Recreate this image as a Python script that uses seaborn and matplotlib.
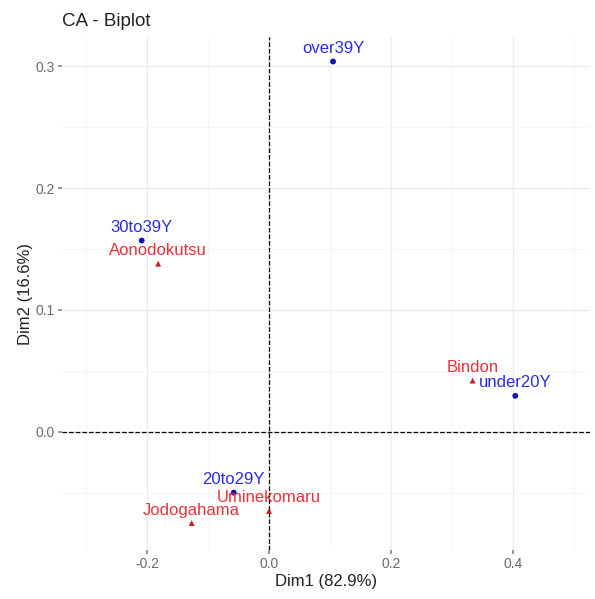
import pandas as pd
import matplotlib.pyplot as plt
import seaborn as sns
from matplotlib.ticker import MultipleLocator

# Row points (red triangles) and column points (blue circles)
row_names = ['Aonodokutsu', 'Bindon', 'Uminekomaru', 'Jodogahama']
row_dim1 = [-0.182, 0.334, 0.000, -0.127]
row_dim2 = [0.138, 0.042, -0.065, -0.075]

col_names = ['over39Y', '30to39Y', '20to29Y', 'under20Y']
col_dim1 = [0.105, -0.209, -0.058, 0.404]
col_dim2 = [0.304, 0.157, -0.050, 0.0295]

df = pd.concat([
    pd.DataFrame({'name': row_names, 'Dim1': row_dim1, 'Dim2': row_dim2, 'type': 'row'}),
    pd.DataFrame({'name': col_names, 'Dim1': col_dim1, 'Dim2': col_dim2, 'type': 'col'}),
], ignore_index=True)

sns.set_theme(style='whitegrid')
plt.rcParams['font.family'] = ['Liberation Sans', 'DejaVu Sans']

fig = plt.figure(figsize=(5.95, 5.99), dpi=100)
ax = fig.add_axes([0.104, 0.082, 0.888, 0.856])

colors = {'row': '#c81e1e', 'col': '#1414b4'}
text_colors = {'row': '#e8303a', 'col': '#2b2be0'}
sns.scatterplot(data=df, x='Dim1', y='Dim2', hue='type', style='type',
                markers={'row': '^', 'col': 'o'}, palette=colors,
                s=18, linewidth=0, legend=False, ax=ax, zorder=3)

for _, r in df.iterrows():
    ax.annotate(r['name'], (r['Dim1'], r['Dim2']), xytext=(0, 4),
                textcoords='offset points', ha='center', va='bottom',
                color=text_colors[r['type']], fontsize=12, zorder=4)

ax.axhline(0, color='black', linestyle='--', linewidth=0.9, zorder=2)
ax.axvline(0, color='black', linestyle='--', linewidth=0.9, zorder=2)

ax.set_xlim(-0.34, 0.527)
ax.set_ylim(-0.097, 0.324)
ax.xaxis.set_major_locator(MultipleLocator(0.2))
ax.xaxis.set_minor_locator(MultipleLocator(0.1))
ax.yaxis.set_major_locator(MultipleLocator(0.1))
ax.yaxis.set_minor_locator(MultipleLocator(0.05))
ax.xaxis.set_major_formatter(plt.FuncFormatter(lambda v, p: f'{v:.1f}'))
ax.yaxis.set_major_formatter(plt.FuncFormatter(lambda v, p: f'{v:.1f}'))
ax.grid(which='major', color='#ebebeb', linewidth=0.9)
ax.grid(which='minor', color='#f4f4f4', linewidth=0.6)
for s in ax.spines.values():
    s.set_visible(False)
ax.tick_params(axis='both', which='major', labelsize=10, labelcolor='#6a6a6a',
               length=3, color='#8a8a8a', pad=2, left=True, bottom=True)
ax.tick_params(axis='both', which='minor', length=0)

ax.set_xlabel('Dim1 (82.9%)', fontsize=12, color='#222222', labelpad=2)
ax.set_ylabel('Dim2 (16.6%)', fontsize=12, color='#222222', labelpad=2)
ax.set_title('CA - Biplot', fontsize=13.5, loc='left', x=-0.0, pad=8, color='#222222')

plt.savefig('out.png', dpi=100)
